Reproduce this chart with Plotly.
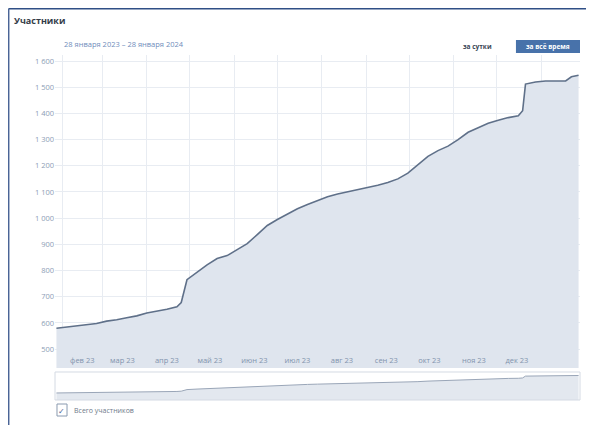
import plotly.graph_objects as go

# ---- data ----
dates = [
    "2023-01-28", "2023-02-04", "2023-02-11", "2023-02-18", "2023-02-25",
    "2023-03-04", "2023-03-11", "2023-03-18", "2023-03-25", "2023-04-01",
    "2023-04-08", "2023-04-15", "2023-04-22", "2023-04-25", "2023-04-29",
    "2023-05-06", "2023-05-13", "2023-05-20", "2023-05-27", "2023-06-03",
    "2023-06-10", "2023-06-17", "2023-06-24", "2023-07-01", "2023-07-08",
    "2023-07-15", "2023-07-22", "2023-07-29", "2023-08-05", "2023-08-12",
    "2023-08-19", "2023-08-26", "2023-09-02", "2023-09-09", "2023-09-16",
    "2023-09-23", "2023-09-30", "2023-10-07", "2023-10-14", "2023-10-21",
    "2023-10-28", "2023-11-04", "2023-11-11", "2023-11-18", "2023-11-25",
    "2023-12-02", "2023-12-09", "2023-12-16", "2023-12-19", "2023-12-21",
    "2023-12-28", "2024-01-04", "2024-01-11", "2024-01-18", "2024-01-22",
    "2024-01-27",
]
members = [
    580, 584, 589, 592, 598,
    607, 612, 620, 627, 638,
    645, 652, 662, 678, 765,
    795, 822, 846, 857, 880,
    903, 937, 972, 995, 1015,
    1036, 1052, 1068, 1082, 1092,
    1100, 1108, 1117, 1126, 1136,
    1150, 1172, 1205, 1236, 1258,
    1275, 1300, 1328, 1345, 1362,
    1374, 1384, 1391, 1410, 1512,
    1520, 1524, 1523, 1524, 1540,
    1546,
]

month_label_dates = ["2023-02-15", "2023-03-15", "2023-04-15", "2023-05-15",
                     "2023-06-15", "2023-07-15", "2023-08-15", "2023-09-15",
                     "2023-10-15", "2023-11-15", "2023-12-15"]
month_labels = ["фев 23", "мар 23", "апр 23", "май 23", "июн 23", "июл 23",
                "авг 23", "сен 23", "окт 23", "ноя 23", "дек 23"]
month_starts = ["2023-02-01", "2023-03-01", "2023-04-01", "2023-05-01",
                "2023-06-01", "2023-07-01", "2023-08-01", "2023-09-01",
                "2023-10-01", "2023-11-01", "2023-12-01", "2024-01-01"]

y_tick_vals = [500, 600, 700, 800, 900, 1000, 1100, 1200, 1300, 1400, 1500, 1600]
y_tick_text = ["500", "600", "700", "800", "900", "1 000", "1 100", "1 200",
               "1 300", "1 400", "1 500", "1 600"]

title_text = "Участники"
period_text = "28 января 2023 – 28 января 2024"
btn_day = "за сутки"
btn_all = "за всё время"
legend_text = "Всего участников"

x_range = ["2023-01-27", "2024-01-28"]

LINE = "#5f7089"
FILL = "#dfe5ee"
GRID = "#e8ecf2"
TICK = "#8d9db5"
FONT = "Open Sans"

fig = go.Figure()

fig.add_trace(go.Scatter(
    x=dates, y=members, mode="lines", fill="tozeroy",
    line=dict(color=LINE, width=1.6), fillcolor=FILL,
    xaxis="x", yaxis="y", hoverinfo="x+y", showlegend=False,
))
fig.add_trace(go.Scatter(
    x=dates, y=members, mode="lines", fill="tozeroy",
    line=dict(color="#9aa6b8", width=1), fillcolor="#e3e8ef",
    xaxis="x2", yaxis="y2", hoverinfo="skip", showlegend=False,
))

# The page body has an 8px margin: figure is 586x417 placed at (8, 8).
fig.update_layout(
    width=586, height=417,
    margin=dict(l=47, r=14, t=47, b=25),
    paper_bgcolor="white", plot_bgcolor="white",
    font=dict(family=FONT, size=8, color=TICK),
    xaxis=dict(
        domain=[0, 1], anchor="y", range=x_range, type="date",
        tickmode="array", tickvals=month_label_dates, ticktext=month_labels,
        ticklabelposition="inside", ticks="", showgrid=False,
        tickfont=dict(size=7.5, color="#8193ad"),
        minor=dict(tickmode="array", tickvals=month_starts, showgrid=True,
                   gridcolor=GRID, gridwidth=1, ticks=""),
        showline=False, zeroline=False, fixedrange=True,
    ),
    yaxis=dict(
        domain=[0.0928, 1], anchor="x", range=[428, 1623],
        tickmode="array", tickvals=y_tick_vals, ticktext=y_tick_text,
        showgrid=True, gridcolor=GRID, gridwidth=1, ticks="",
        tickfont=dict(size=7.5, color=TICK), zeroline=False, showline=False,
        fixedrange=True,
    ),
    xaxis2=dict(
        domain=[0, 1], anchor="y2", range=x_range, type="date",
        showticklabels=False, showgrid=False, ticks="", zeroline=False,
        showline=False, fixedrange=True,
    ),
    yaxis2=dict(
        domain=[0, 0.0812], anchor="x2", range=[190, 1740],
        showticklabels=False, showgrid=False, ticks="", zeroline=False,
        showline=False, fixedrange=True,
    ),
    shapes=[
        # frame lines of the page block
        dict(type="line", xref="paper", yref="paper", x0=-0.0882, x1=1.03,
             y0=1.1348, y1=1.1348, line=dict(color="#2f4f86", width=2)),
        dict(type="line", xref="paper", yref="paper", x0=-0.0882, x1=-0.0882,
             y0=1.1348, y1=-0.08, line=dict(color="#4a6496", width=1.5)),
        # navigator frame
        dict(type="rect", xref="paper", yref="paper", x0=0, x1=1,
             y0=0, y1=0.0812, line=dict(color="#d4dae3", width=1)),
        # active button
        dict(type="rect", xref="paper", yref="paper", x0=0.878, x1=1.0,
             y0=1.0058, y1=1.0435, line=dict(width=0), fillcolor="#4872aa"),
        # legend checkbox
        dict(type="rect", xref="paper", yref="paper", x0=0.0038, x1=0.0229,
             y0=-0.0464, y1=-0.0116, line=dict(color="#8a9ab0", width=1),
             fillcolor="white"),
    ],
    annotations=[
        dict(text="<b>" + title_text + "</b>", xref="paper", yref="paper",
             x=-0.082, y=1.1014, xanchor="left", yanchor="middle",
             showarrow=False, font=dict(size=9, color="#333c48", family=FONT)),
        dict(text=period_text, xref="paper", yref="paper",
             x=0.013, y=1.0319, xanchor="left", yanchor="middle",
             showarrow=False, font=dict(size=7.5, color="#6f8dbb", family=FONT)),
        dict(text="<b>" + btn_day + "</b>", xref="paper", yref="paper",
             x=0.804, y=1.026, xanchor="center", yanchor="middle",
             showarrow=False, font=dict(size=6.5, color="#3b4656", family=FONT)),
        dict(text="<b>" + btn_all + "</b>", xref="paper", yref="paper",
             x=0.939, y=1.0246, xanchor="center", yanchor="middle",
             showarrow=False, font=dict(size=6.5, color="white", family=FONT)),
        dict(text="✓", xref="paper", yref="paper",
             x=0.0133, y=-0.029, xanchor="center", yanchor="middle",
             showarrow=False, font=dict(size=8, color="#4a6496", family=FONT)),
        dict(text=legend_text, xref="paper", yref="paper",
             x=0.0324, y=-0.029, xanchor="left", yanchor="middle",
             showarrow=False, font=dict(size=7, color="#6f7a8a", family=FONT)),
    ],
)

fig.write_html("out.html")
